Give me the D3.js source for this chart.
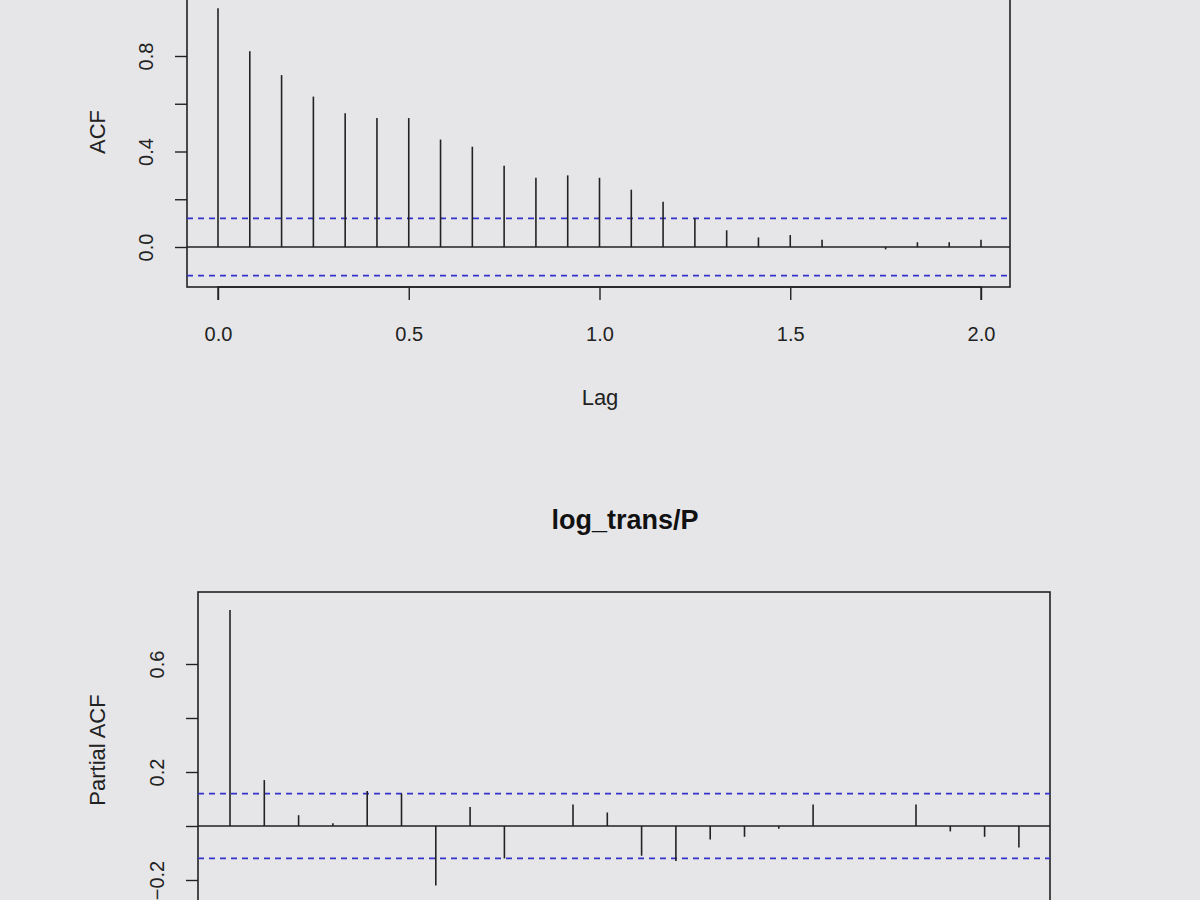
<!DOCTYPE html>
<html><head><meta charset="utf-8">
<script src="https://cdn.jsdelivr.net/npm/d3@7"></script>
<style>body{margin:0;background:#e6e6e8;}svg{display:block;font-family:"Liberation Sans",Arial,sans-serif;}</style>
</head><body>
<svg width="1200" height="900"></svg>
<script>
const acfValues = [1.0, 0.82, 0.72, 0.63, 0.56, 0.54, 0.54, 0.45, 0.42, 0.34, 0.29, 0.30, 0.29,
  0.24, 0.19, 0.12, 0.07, 0.04, 0.05, 0.03, 0.0, -0.01, 0.02, 0.02, 0.03];
const pacfValues = [0.80, 0.17, 0.04, 0.01, 0.13, 0.12, -0.22, 0.07, -0.12, 0.0, 0.08, 0.05,
  -0.11, -0.13, -0.05, -0.04, -0.01, 0.08, 0.0, 0.0, 0.08, -0.02, -0.04, -0.08];
const confLimit = 0.12;
const acfYTicks = [0, 0.2, 0.4, 0.6, 0.8];
const acfYLabels = [0, 0.4, 0.8];
const acfXTicks = [0, 0.5, 1.0, 1.5, 2.0];
const pacfYTicks = [-0.2, 0, 0.2, 0.4, 0.6];
const pacfYLabels = [-0.2, 0.2, 0.6];
const title = 'log_trans/P';

const svg = d3.select('svg');
const ink = '#222';

function panel(o) {
  const x = d3.scaleLinear().domain(o.xDomain).range([o.left, o.right]);
  const y = d3.scaleLinear().domain(o.yDomain).range([o.bottom, o.top]);
  const g = svg.append('g');
  g.append('rect').attr('x', o.left).attr('y', o.top)
    .attr('width', o.right - o.left).attr('height', o.bottom - o.top)
    .attr('fill', 'none').attr('stroke', ink).attr('stroke-width', 1.6);
  g.append('line').attr('x1', o.left).attr('x2', o.right)
    .attr('y1', y(0)).attr('y2', y(0)).attr('stroke', ink).attr('stroke-width', 1.6);
  [confLimit, -confLimit].forEach(c => g.append('line')
    .attr('x1', o.left).attr('x2', o.right).attr('y1', y(c)).attr('y2', y(c))
    .attr('stroke', '#3333cc').attr('stroke-width', 1.6).attr('stroke-dasharray', '6,5'));
  g.selectAll('.spike').data(o.values).join('line')
    .attr('x1', (d, i) => x((i + o.lag0) / 12)).attr('x2', (d, i) => x((i + o.lag0) / 12))
    .attr('y1', y(0)).attr('y2', d => y(d))
    .attr('stroke', ink).attr('stroke-width', 1.6);
  const ya = g.append('g').attr('transform', `translate(${o.left},0)`)
    .call(d3.axisLeft(y).tickValues(o.yTicks).tickSize(12)
      .tickFormat(d => o.yLabels.includes(d) ? d3.format('.1f')(d) : ''));
  ya.select('.domain').remove();
  ya.selectAll('line').attr('stroke', ink).attr('stroke-width', 1.4);
  ya.selectAll('.tick text').attr('font-size', 20).attr('fill', ink)
    .attr('text-anchor', 'middle').attr('x', 0).attr('y', 0).attr('dy', 0)
    .attr('transform', 'translate(-34,0) rotate(-90)');
  return { x, y, g };
}

const acfPanel = panel({
  left: 187, right: 1010, top: -3, bottom: 287,
  xDomain: [(187 - 218) / 381.5, (1010 - 218) / 381.5],
  yDomain: [-40 / 238.75, 250 / 238.75],
  values: acfValues, lag0: 0, yTicks: acfYTicks, yLabels: acfYLabels
});
const xa = acfPanel.g.append('g').attr('transform', 'translate(0,287)')
  .call(d3.axisBottom(acfPanel.x).tickValues(acfXTicks).tickSize(13).tickPadding(27).tickFormat(d3.format('.1f')));
xa.select('.domain').attr('stroke', ink).attr('stroke-width', 1.4)
  .attr('d', `M${acfPanel.x(0)},13V0H${acfPanel.x(2)}V13`);
xa.selectAll('line').attr('stroke', ink).attr('stroke-width', 1.4);
xa.selectAll('text').attr('font-size', 20).attr('fill', ink);
svg.append('text').attr('x', 600).attr('y', 405).attr('text-anchor', 'middle')
  .attr('font-size', 22).attr('fill', ink).text('Lag');
svg.append('text').attr('transform', 'translate(105,132) rotate(-90)').attr('text-anchor', 'middle')
  .attr('font-size', 22).attr('fill', ink).text('ACF');

svg.append('text').attr('x', 625).attr('y', 529).attr('text-anchor', 'middle')
  .attr('font-size', 27).attr('font-weight', 'bold').attr('fill', '#111').text(title);

panel({
  left: 198, right: 1050, top: 592, bottom: 906,
  xDomain: [(198 - 195.7) / 411.6, (1050 - 195.7) / 411.6],
  yDomain: [-80 / 270, 234 / 270],
  values: pacfValues, lag0: 1, yTicks: pacfYTicks, yLabels: pacfYLabels
});
svg.append('text').attr('transform', 'translate(105,750) rotate(-90)').attr('text-anchor', 'middle')
  .attr('font-size', 22).attr('fill', ink).text('Partial ACF');
</script>
</body></html>
